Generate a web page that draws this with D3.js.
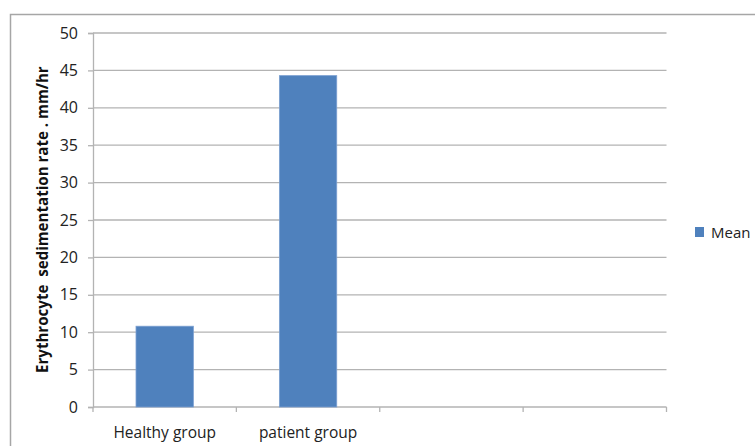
<!DOCTYPE html>
<html>
<head>
<meta charset="utf-8">
<script src="https://cdn.jsdelivr.net/npm/d3@7"></script>
<style>
  html, body { margin: 0; padding: 0; background: #fff; }
  svg { display: block; }
  text { font-family: "Open Sans", Lato, sans-serif; }
</style>
</head>
<body>
<script>
// Category slots on the x axis (two are left empty)
const categories = ["Healthy group", "patient group", "", " "];
// Mean ESR per group (mm/hr)
const meanValues = [10.8, 44.3, null, null];
// Y axis tick values
const yTicks = [0, 5, 10, 15, 20, 25, 30, 35, 40, 45, 50];
const seriesName = "Mean";
const yTitle = "Erythrocyte  sedimentation rate . mm/hr";

const W = 755, H = 446;
const plot = { left: 93, right: 666.5, top: 33, bottom: 407 };
const barColor = "#4f81bd";
const gridColor = "#b3b3b3";

const svg = d3.select("body").append("svg")
  .attr("width", W).attr("height", H);

// Outer chart frame
svg.append("rect")
  .attr("x", 10.5).attr("y", 14.5)
  .attr("width", W + 10).attr("height", H + 10)
  .attr("fill", "none").attr("stroke", "#a6a6a6").attr("stroke-width", 1.5);

const x = d3.scaleBand()
  .domain(categories)
  .range([plot.left, plot.right])
  .paddingInner(0.6).paddingOuter(0.3);

const y = d3.scaleLinear().domain([0, 50]).range([plot.bottom, plot.top]);

// Horizontal gridlines
svg.append("g").selectAll("line")
  .data(yTicks.filter(d => d > 0))
  .join("line")
  .attr("x1", plot.left).attr("x2", plot.right)
  .attr("y1", d => y(d)).attr("y2", d => y(d))
  .attr("stroke", gridColor).attr("stroke-width", 1.3);

// Y axis
const yAxis = svg.append("g")
  .attr("transform", `translate(${plot.left},0)`)
  .call(d3.axisLeft(y).tickValues(yTicks).tickSize(5).tickPadding(10).tickFormat(d3.format("d")));
yAxis.select(".domain").attr("stroke", gridColor).attr("stroke-width", 1.3);
yAxis.selectAll(".tick line").attr("stroke", gridColor).attr("stroke-width", 1.3);
yAxis.selectAll(".tick text")
  .attr("font-size", 16).attr("fill", "#222")
  .style("font-family", "'Open Sans', Lato, sans-serif");

// X axis with tick marks on the category boundaries
const boundaries = d3.range(categories.length + 1).map(i => plot.left + i * (plot.right - plot.left) / categories.length);
svg.append("line")
  .attr("x1", plot.left).attr("x2", plot.right)
  .attr("y1", plot.bottom).attr("y2", plot.bottom)
  .attr("stroke", gridColor).attr("stroke-width", 1.3);
svg.append("g").selectAll("line")
  .data(boundaries)
  .join("line")
  .attr("x1", d => d).attr("x2", d => d)
  .attr("y1", plot.bottom).attr("y2", plot.bottom + 5)
  .attr("stroke", gridColor).attr("stroke-width", 1.3);

// Category labels
svg.append("g").selectAll("text")
  .data(categories.filter(c => c.trim() !== ""))
  .join("text")
  .attr("x", d => x(d) + x.bandwidth() / 2)
  .attr("y", 438)
  .attr("text-anchor", "middle")
  .attr("font-size", 15.5).attr("fill", "#222")
  .text(d => d);

// Bars
svg.append("g").selectAll("rect")
  .data(categories.map((c, i) => ({ c, v: meanValues[i] })).filter(d => d.v != null))
  .join("rect")
  .attr("x", d => x(d.c))
  .attr("width", x.bandwidth())
  .attr("y", d => y(d.v))
  .attr("height", d => y(0) - y(d.v))
  .attr("fill", barColor)
  .attr("stroke", "#7a9fd0").attr("stroke-width", 0.8);

// Y axis title (double space kept), sized to run from y=373 up to y=66
const titleStart = 373, titleEnd = 66;
const title = svg.append("text")
  .attr("transform", `translate(48,${titleStart}) rotate(-90)`)
  .attr("text-anchor", "start")
  .style("white-space", "pre")
  .attr("font-size", 14).attr("font-weight", "bold").attr("fill", "#111")
  .text(yTitle);
const len = title.node().getComputedTextLength();
title.attr("font-size", 14 * (titleStart - titleEnd) / len);

// Legend
const lg = svg.append("g").attr("transform", "translate(695,227)");
lg.append("rect").attr("width", 9).attr("height", 10).attr("fill", barColor);
lg.append("text").attr("x", 16).attr("y", 11)
  .attr("font-size", 15).attr("fill", "#222").text(seriesName);
</script>
</body>
</html>
